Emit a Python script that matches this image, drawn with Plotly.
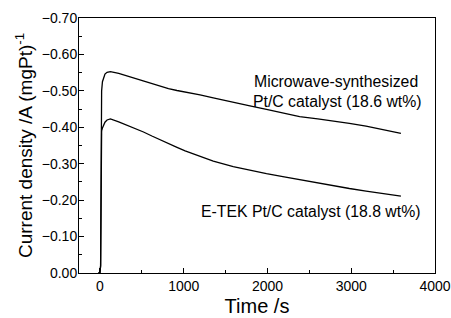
import plotly.graph_objects as go

time_s = [-20, 0, 8, 12, 16, 20, 30, 45, 60, 85, 125, 224, 320, 422, 520, 620, 720, 818, 920, 1017,
          1195, 1353, 1591, 1790, 1988, 2200, 2384, 2600, 2780, 2978, 3177, 3400, 3593]
microwave = [0, 0, -0.02, -0.25, -0.45, -0.50, -0.525, -0.539, -0.546, -0.551, -0.553, -0.548, -0.541,
             -0.534, -0.526, -0.519, -0.512, -0.506, -0.501, -0.497,
             -0.489, -0.481, -0.470, -0.459, -0.449, -0.438, -0.429, -0.423, -0.418, -0.411, -0.403, -0.393, -0.383]
etek = [0, 0, -0.02, -0.25, -0.37, -0.39, -0.398, -0.406, -0.414, -0.420, -0.423, -0.415, -0.406,
        -0.397, -0.387, -0.376, -0.365, -0.355, -0.345, -0.335,
        -0.319, -0.307, -0.292, -0.282, -0.273, -0.264, -0.256, -0.247, -0.240, -0.232, -0.225, -0.218, -0.211]

y_ticks = [0.0, -0.1, -0.2, -0.3, -0.4, -0.5, -0.6, -0.7]
x_ticks = [0, 1000, 2000, 3000, 4000]

font = "Liberation Sans, Arial, sans-serif"
ann_font = dict(size=15.8, color="black", family=font)

fig = go.Figure()
fig.add_trace(go.Scatter(x=time_s, y=microwave, mode="lines",
                         line=dict(color="black", width=1.3), showlegend=False))
fig.add_trace(go.Scatter(x=time_s, y=etek, mode="lines",
                         line=dict(color="black", width=1.3), showlegend=False))

fig.add_annotation(x=3821, y=-0.525, text="Microwave-synthesized", showarrow=False,
                   xanchor="right", yanchor="middle", font=ann_font)
fig.add_annotation(x=3869, y=-0.470, text="Pt/C catalyst (18.6 wt%)", showarrow=False,
                   xanchor="right", yanchor="middle", font=ann_font)
fig.add_annotation(x=3845, y=-0.168, text="E-TEK Pt/C catalyst (18.8 wt%)", showarrow=False,
                   xanchor="right", yanchor="middle", font=ann_font)

fig.update_layout(
    width=451, height=318,
    margin=dict(l=79, r=16, t=18, b=45),
    paper_bgcolor="white", plot_bgcolor="white",
    font=dict(family=font, color="black"),
    xaxis=dict(range=[-250, 4000], tickvals=x_ticks, ticks="inside", ticklen=5,
               tickcolor="black", showline=True, linecolor="black", linewidth=1, mirror=True,
               showgrid=False, zeroline=False, tickfont=dict(size=14, color="black"), automargin=False,
               ticklabeloverflow="allow",
               minor=dict(tickvals=[500, 1500, 2500, 3500], ticks="inside", ticklen=3, tickcolor="black"),
               title=dict(text="Time /s", font=dict(size=20, color="black"), standoff=6)),
    yaxis=dict(range=[0, -0.7], tickvals=y_ticks, tickformat=".2f", ticks="inside", ticklen=5,
               tickcolor="black", showline=True, linecolor="black", linewidth=1, mirror=True,
               showgrid=False, zeroline=False, tickfont=dict(size=14, color="black"), automargin=False,
               ticklabelstandoff=-2,
               minor=dict(tickvals=[-0.05, -0.15, -0.25, -0.35, -0.45, -0.55, -0.65], ticks="inside",
                          ticklen=3, tickcolor="black"),
               title=dict(text="Current density /A (mgPt)<sup>-1</sup>", font=dict(size=19, color="black"),
                          standoff=4)),
)

fig.write_html(
    "out.html",
    config={"displayModeBar": False, "staticPlot": True},
    post_script="document.body.style.margin='0';document.body.style.overflow='hidden';",
)
